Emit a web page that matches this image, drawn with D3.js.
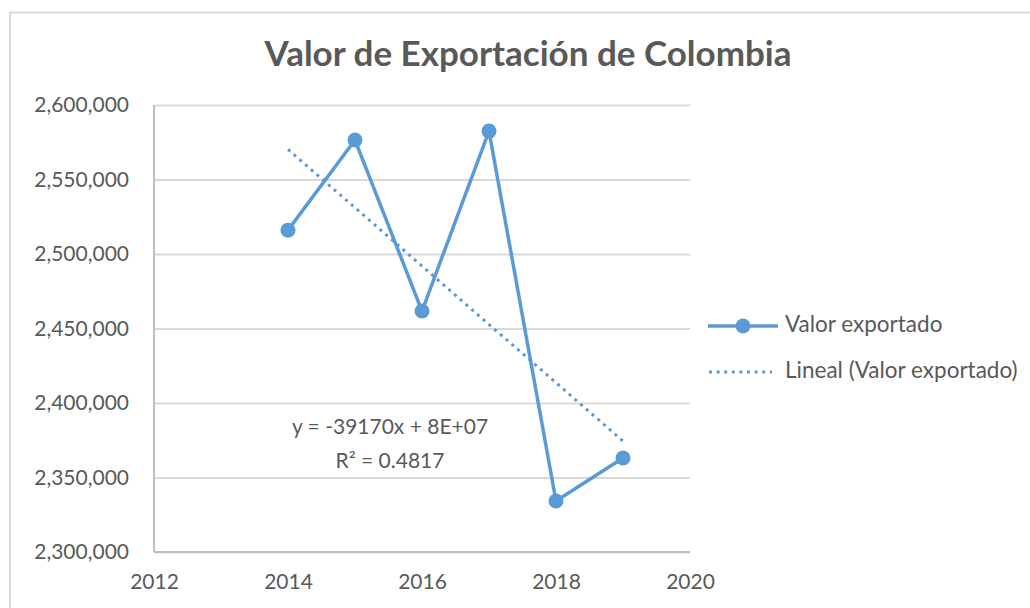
<!DOCTYPE html>
<html>
<head>
<meta charset="utf-8">
<script src="https://cdn.jsdelivr.net/npm/d3@7"></script>
<style>
  html, body { margin: 0; padding: 0; background: #fff; }
  svg { display: block; }
  text { font-family: Lato, "Open Sans", sans-serif; fill: #595959; }
</style>
</head>
<body>
<svg id="chart" width="1030" height="608"></svg>
<script>
// ---- Data ----
const years = [2014, 2015, 2016, 2017, 2018, 2019];
const exportValues = [2516000, 2576500, 2461700, 2582500, 2334200, 2363100];
const yTicks = [2300000, 2350000, 2400000, 2450000, 2500000, 2550000, 2600000];
const xTicks = [2012, 2014, 2016, 2018, 2020];
const titleText = "Valor de Exportación de Colombia";
const seriesName = "Valor exportado";
const trendName = "Lineal (Valor exportado)";
const equationLines = ["y = -39170x + 8E+07", "R² = 0.4817"];

const color = "#5b9bd5";
const svg = d3.select("#chart");

// frame
svg.append("rect")
  .attr("x", 10).attr("y", 12.5)
  .attr("width", 1040).attr("height", 620)
  .attr("fill", "none").attr("stroke", "#d9d9d9").attr("stroke-width", 2);

const plot = { left: 154, right: 690, top: 105, bottom: 552 };
const x = d3.scaleLinear().domain([2012, 2020]).range([plot.left, plot.right]);
const y = d3.scaleLinear().domain([2300000, 2600000]).range([plot.bottom, plot.top]);

// title
svg.append("text")
  .attr("x", 528).attr("y", 57)
  .attr("text-anchor", "middle").attr("dominant-baseline", "middle")
  .style("font-size", "35px").style("font-weight", "700")
  .text(titleText);

// gridlines
const grid = svg.append("g")
  .attr("transform", `translate(${plot.left},0)`)
  .call(d3.axisLeft(y).tickValues(yTicks).tickSize(-(plot.right - plot.left)).tickFormat(""));
grid.select(".domain").remove();
grid.selectAll("line").attr("stroke", "#d9d9d9").attr("stroke-width", 2);

// y axis line
svg.append("line")
  .attr("x1", plot.left).attr("x2", plot.left)
  .attr("y1", plot.top).attr("y2", plot.bottom)
  .attr("stroke", "#bfbfbf").attr("stroke-width", 2);
// x axis line
svg.append("line")
  .attr("x1", plot.left).attr("x2", plot.right)
  .attr("y1", plot.bottom).attr("y2", plot.bottom)
  .attr("stroke", "#bfbfbf").attr("stroke-width", 2);

// y axis labels
const yAxis = svg.append("g")
  .attr("transform", `translate(${plot.left - 25},0)`)
  .call(d3.axisLeft(y).tickValues(yTicks).tickSize(0).tickPadding(0).tickFormat(d3.format(",")));
yAxis.select(".domain").remove();
yAxis.selectAll("text")
  .style("font-size", "21px").style("font-family", "Lato, 'Open Sans', sans-serif")
  .attr("fill", "#595959");

// x axis labels
const xAxis = svg.append("g")
  .attr("transform", `translate(0,${plot.bottom})`)
  .call(d3.axisBottom(x).tickValues(xTicks).tickSize(0).tickPadding(22).tickFormat(d3.format("d")));
xAxis.select(".domain").remove();
xAxis.selectAll("text")
  .style("font-size", "21px").style("font-family", "Lato, 'Open Sans', sans-serif")
  .attr("fill", "#595959");

// regression (trendline) from data
const n = years.length;
const mx = d3.mean(years), my = d3.mean(exportValues);
const slope = d3.sum(years, (v, i) => (v - mx) * (exportValues[i] - my)) / d3.sum(years, v => (v - mx) ** 2);
const intercept = my - slope * mx;
const trendX = [years[0], years[n - 1]];

svg.append("path")
  .datum(trendX)
  .attr("d", d3.line().x(d => x(d)).y(d => y(slope * d + intercept)))
  .attr("fill", "none").attr("stroke", color)
  .attr("stroke-width", 3).attr("stroke-dasharray", "3 4.6");

// series line
const data = years.map((v, i) => ({ year: v, value: exportValues[i] }));
svg.append("path")
  .datum(data)
  .attr("d", d3.line().x(d => x(d.year)).y(d => y(d.value)))
  .attr("fill", "none").attr("stroke", color)
  .attr("stroke-width", 3.5).attr("stroke-linejoin", "round");

svg.selectAll("circle.pt")
  .data(data).enter().append("circle")
  .attr("class", "pt")
  .attr("cx", d => x(d.year)).attr("cy", d => y(d.value))
  .attr("r", 7.5).attr("fill", color);

// equation
const eq = svg.append("text")
  .attr("text-anchor", "middle")
  .style("font-size", "21px");
equationLines.forEach((t, i) => {
  eq.append("tspan").attr("x", 390).attr("y", 434 + i * 34).text(t);
});

// legend
const lg = svg.append("g");
lg.append("line").attr("x1", 708).attr("x2", 778).attr("y1", 326).attr("y2", 326)
  .attr("stroke", color).attr("stroke-width", 3.5);
lg.append("circle").attr("cx", 743).attr("cy", 326).attr("r", 7.5).attr("fill", color);
lg.append("text").attr("x", 785).attr("y", 326).attr("dominant-baseline", "middle")
  .style("font-size", "22.5px").text(seriesName);
lg.append("line").attr("x1", 709).attr("x2", 772).attr("y1", 372).attr("y2", 372)
  .attr("stroke", color).attr("stroke-width", 3).attr("stroke-dasharray", "3 4.6");
lg.append("text").attr("x", 785).attr("y", 372).attr("dominant-baseline", "middle")
  .style("font-size", "22.5px").text(trendName);
</script>
</body>
</html>
